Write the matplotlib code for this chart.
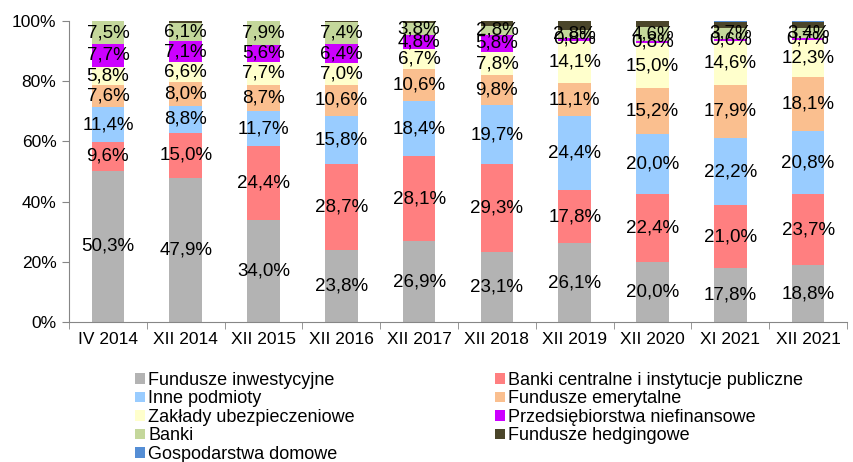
import matplotlib
matplotlib.use("Agg")
import matplotlib.pyplot as plt
from matplotlib.patches import Patch
import numpy as np

plt.rcParams['font.family'] = ['Liberation Sans', 'DejaVu Sans']

categories = ["IV 2014", "XII 2014", "XII 2015", "XII 2016", "XII 2017",
              "XII 2018", "XII 2019", "XII 2020", "XI 2021", "XII 2021"]

fundusze_inwestycyjne = [50.3, 47.9, 34.0, 23.8, 26.9, 23.1, 26.1, 20.0, 17.8, 18.8]
banki_centralne = [9.6, 15.0, 24.4, 28.7, 28.1, 29.3, 17.8, 22.4, 21.0, 23.7]
inne_podmioty = [11.4, 8.8, 11.7, 15.8, 18.4, 19.7, 24.4, 20.0, 22.2, 20.8]
fundusze_emerytalne = [7.6, 8.0, 8.7, 10.6, 10.6, 9.8, 11.1, 15.2, 17.9, 18.1]
zaklady_ubezp = [5.8, 6.6, 7.7, 7.0, 6.7, 7.8, 14.1, 15.0, 14.6, 12.3]
przedsiebiorstwa = [7.7, 7.1, 5.6, 6.4, 4.8, 5.8, 0.8, 0.8, 0.6, 0.7]
banki = [7.5, 6.1, 7.9, 7.4, 3.8, 2.8, 2.8, 4.6, 3.7, 3.4]
fundusze_hedgingowe = [0.1, 0.5, 0.0, 0.3, 0.7, 1.7, 2.9, 2.0, 1.9, 1.9]
gospodarstwa_domowe = [0.0, 0.0, 0.0, 0.0, 0.0, 0.0, 0.0, 0.0, 0.3, 0.3]

series = [
    ("Fundusze inwestycyjne", fundusze_inwestycyjne, "#B3B3B3", True),
    ("Banki centralne i instytucje publiczne", banki_centralne, "#FF7F80", True),
    ("Inne podmioty", inne_podmioty, "#99CCFF", True),
    ("Fundusze emerytalne", fundusze_emerytalne, "#FABF8F", True),
    ("Zakłady ubezpieczeniowe", zaklady_ubezp, "#FFFFCC", True),
    ("Przedsiębiorstwa niefinansowe", przedsiebiorstwa, "#CC00FF", True),
    ("Banki", banki, "#C4D79B", True),
    ("Fundusze hedgingowe", fundusze_hedgingowe, "#4A452A", False),
    ("Gospodarstwa domowe", gospodarstwa_domowe, "#558ED5", False),
]

fig = plt.figure(figsize=(8.54, 4.62), dpi=100)
ax = fig.add_axes([69/854, 1-322/462, (847-69)/854, (322-21)/462])

x = np.arange(len(categories))
bottom = np.zeros(len(categories))
handles = {}
for name, vals, color, lab in series:
    vals = np.array(vals, dtype=float)
    ax.bar(x, vals, 0.42, bottom=bottom, color=color, edgecolor='none', zorder=2)
    handles[name] = Patch(facecolor=color, edgecolor='none')
    if lab:
        for xi, b, v in zip(x, bottom, vals):
            ax.text(xi, b + v/2, f"{v:.1f}".replace('.', ',') + "%",
                    ha='center', va='center', fontsize=13.5, color='black', zorder=3)
    bottom += vals

ax.set_xlim(-0.5, len(categories) - 0.5)
ax.set_ylim(0, 100)
ax.set_yticks([0, 20, 40, 60, 80, 100])
ax.set_yticklabels([f"{t}%" for t in [0, 20, 40, 60, 80, 100]], fontsize=12.5)
ax.set_xticks(x)
ax.set_xticklabels(categories, fontsize=12.5)
ax.set_xticks(np.arange(-0.5, len(categories)), minor=True)
ax.tick_params(axis='x', which='major', length=0, pad=7)
ax.tick_params(axis='x', which='minor', length=5, color='#868686')
ax.tick_params(axis='y', length=5, color='#868686', pad=4)
for s in ['top', 'right']:
    ax.spines[s].set_visible(False)
for s in ['left', 'bottom']:
    ax.spines[s].set_color('#868686')

col1 = ["Fundusze inwestycyjne", "Inne podmioty", "Zakłady ubezpieczeniowe", "Banki", "Gospodarstwa domowe"]
col2 = ["Banki centralne i instytucje publiczne", "Fundusze emerytalne", "Przedsiębiorstwa niefinansowe", "Fundusze hedgingowe"]
common = dict(frameon=False, fontsize=13, handlelength=0.55, handleheight=0.55,
              handletextpad=0.18, labelspacing=0.08, borderaxespad=0, borderpad=0)
fig.legend([handles[n] for n in col1], col1, loc='upper left',
           bbox_to_anchor=(135/854, 1-372/462), **common)
fig.legend([handles[n] for n in col2], col2, loc='upper left',
           bbox_to_anchor=(495/854, 1-372/462), **common)

fig.savefig("out.png", dpi=100)
